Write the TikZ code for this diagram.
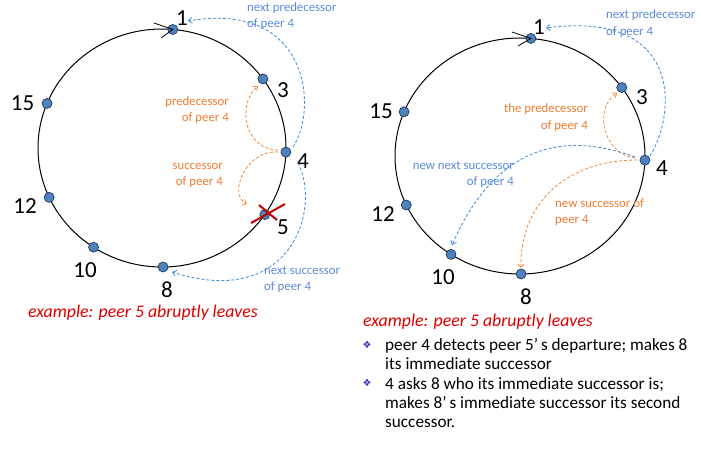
\documentclass[tikz,border=0pt]{standalone}
\usepackage{fontspec}
\setmainfont{Carlito}
\newfontfamily\symfont{DejaVu Sans}
\usetikzlibrary{arrows.meta,calc}
\definecolor{dotfill}{HTML}{4F81BD}
\definecolor{dotline}{HTML}{1F3A60}
\definecolor{blueline}{HTML}{3C8DD8}
\definecolor{bluetext}{HTML}{5B8CD6}
\definecolor{orangeline}{HTML}{F08A3C}
\definecolor{orangetext}{HTML}{EE7D31}
\definecolor{redtext}{HTML}{DD0000}
\definecolor{crossred}{HTML}{C00000}
\definecolor{bulletblue}{HTML}{3333BB}
\begin{document}
\begin{tikzpicture}[x=1pt,y=-1pt,
  ring/.style={line width=1pt},
  dot/.style={circle, fill=dotfill, draw=dotline, line width=0.7pt, minimum size=10pt, inner sep=0pt},
  num/.style={font=\fontsize{23}{24}\selectfont, inner sep=0pt},
  lbl/.style={font=\fontsize{12.8}{16.2}\selectfont, inner sep=0pt},
  bluelbl/.style={lbl, text=bluetext},
  orangelbl/.style={lbl, text=orangetext},
  bluearrow/.style={draw=blueline, dash pattern=on 3pt off 2pt, line width=0.8pt, -{Straight Barb[length=3.5pt,width=6pt]}},
  orangearrow/.style={draw=orangeline, dash pattern=on 3pt off 2pt, line width=0.8pt, -{Straight Barb[length=3.5pt,width=6pt]}},
  tickline/.style={line width=0.8pt},
  crossline/.style={draw=crossred, line width=2pt},
  example/.style={font=\fontsize{17.8}{19}\selectfont\itshape, text=redtext, inner sep=0pt},
  bullettext/.style={font=\fontsize{17.2}{19.3}\selectfont, inner sep=0pt, align=left},
  bulletmark/.style={font=\symfont\fontsize{10}{11}\selectfont, text=bulletblue, inner sep=0pt}
]
\fill[white] (0,0) rectangle (701,451);
\useasboundingbox (0,0) rectangle (701,451);

% ---------- left ring ----------
\begin{scope}[shift={(162,148)}]
\draw[ring] (0,0) ellipse [x radius=124, y radius=119];
\node[dot] (L1) at (-85:124 and 119) {};
\node[dot] (L3) at (-35.5:124 and 119) {};
\node[dot] (L15) at (-158:124 and 119) {};
\node[dot] (L4) at (2:124 and 119) {};
\node[dot] (L5) at (34:124 and 119) {};
\node[dot] (L12) at (155.5:124 and 119) {};
\node[dot] (L10) at (123.5:124 and 119) {};
\node[dot] (L8) at (89.5:124 and 119) {};
\end{scope}
\coordinate (Lt1) at (154,23);
\coordinate (Lt2) at (161,38);
\draw[tickline] (Lt1) -- (L1.center) -- (Lt2);

\node[num] (L1t) at (182,18.5) {1};
\node[num] (L3t) at (283,90) {3};
\node[num] (L15t) at (22.5,103) {15};
\node[num] (L4t) at (303,161) {4};
\node[num] (L5t) at (283,227) {5};
\node[num] (L12t) at (25,206) {12};
\node[num] (L10t) at (85,270) {10};
\node[num] (L8t) at (167,290) {8};

\coordinate (Lx1a) at (251,223);
\coordinate (Lx1b) at (285,204);
\coordinate (Lx2a) at (259,205);
\coordinate (Lx2b) at (277,220);
\draw[crossline] (Lx1a) -- (Lx1b);
\draw[crossline] (Lx2a) -- (Lx2b);

% left arrows
\coordinate (Lnp0) at (293,147);
\coordinate (Lnp1) at (188,21);
\draw[bluearrow] (Lnp0) .. controls (318,110) and (310,0) .. (Lnp1);
\coordinate (Lns0) at (298,163);
\coordinate (Lns1) at (172,272);
\draw[bluearrow] (Lns0) .. controls (322,210) and (290,310) .. (Lns1);
\coordinate (Lp0) at (278,150);
\coordinate (Lp1) at (258,86);
\draw[orangearrow] (Lp0) .. controls (245,150) and (236,105) .. (Lp1);
\coordinate (Ls0) at (278,152);
\coordinate (Ls1) at (247,204);
\draw[orangearrow] (Ls0) .. controls (245,150) and (228,195) .. (Ls1);

\node[bluelbl, align=left, anchor=west] (Lnpt) at (247,15.7) {next predecessor\\of peer 4};
\node[orangelbl, align=right, anchor=east] (Lpt) at (229,110) {predecessor\\of peer 4};
\node[orangelbl, align=right, anchor=east] (Lst) at (223,175.5) {successor\\of peer 4};
\node[bluelbl, align=left, anchor=west] (Lnst) at (264,279.5) {next successor\\of peer 4};
\node[example, anchor=west] (Lex) at (28,313) {example: peer 5 abruptly leaves};

% ---------- right ring ----------
\begin{scope}[shift={(520,156)}]
\draw[ring] (0,0) ellipse [x radius=125, y radius=118];
\node[dot] (R1) at (-85:125 and 118) {};
\node[dot] (R3) at (-35.5:125 and 118) {};
\node[dot] (R15) at (-158:125 and 118) {};
\node[dot] (R4) at (2:125 and 118) {};
\node[dot] (R12) at (155.5:125 and 118) {};
\node[dot] (R10) at (123.5:125 and 118) {};
\node[dot] (R8) at (89.5:125 and 118) {};
\end{scope}
\coordinate (Rt1) at (512,32);
\coordinate (Rt2) at (518,46);
\draw[tickline] (Rt1) -- (R1.center) -- (Rt2);

\node[num] (R1t) at (539,27) {1};
\node[num] (R3t) at (642,97) {3};
\node[num] (R15t) at (381,111) {15};
\node[num] (R4t) at (662,168) {4};
\node[num] (R12t) at (383,214) {12};
\node[num] (R10t) at (443,277) {10};
\node[num] (R8t) at (526,297) {8};

% right arrows
\coordinate (Rnp0) at (650,156);
\coordinate (Rnp1) at (546,28);
\draw[bluearrow] (Rnp0) .. controls (678,110) and (680,10) .. (Rnp1);
\coordinate (Rp0) at (635,158);
\coordinate (Rp1) at (617,93);
\draw[orangearrow] (Rp0) .. controls (605,155) and (592,110) .. (Rp1);
\coordinate (Rnn0) at (635,157);
\coordinate (Rnn1) at (452,245);
\draw[bluearrow] (Rnn0) .. controls (575,135) and (500,135) .. (Rnn1);
\coordinate (Rns0) at (637,160);
\coordinate (Rns1) at (521,268);
\draw[orangearrow] (Rns0) .. controls (570,160) and (520,200) .. (Rns1);

\node[bluelbl, align=left, anchor=west] (Rnpt) at (606,23.5) {next predecessor\\of peer 4};
\node[orangelbl, align=right, anchor=east] (Rpt) at (588,117.5) {the predecessor\\of peer 4};
\node[bluelbl, align=right, anchor=east] (Rnnt) at (514,174.5) {new next successor\\of peer 4};
\node[orangelbl, align=left, anchor=west] (Rnst) at (555,212.5) {new successor of\\peer 4};
\node[example, anchor=west] (Rex) at (363,322) {example: peer 5 abruptly leaves};

\node[bulletmark] (B1) at (367,345) {❖};
\node[bullettext, anchor=west] (B1t) at (385,354) {peer 4 detects peer 5’\,s departure; makes 8\\its immediate successor};
\node[bulletmark] (B2) at (367,383) {❖};
\node[bullettext, anchor=west] (B2t) at (385,402.5) {4 asks 8 who its immediate successor is;\\makes 8’\,s immediate successor its second\\successor.};
\end{tikzpicture}
\end{document}
